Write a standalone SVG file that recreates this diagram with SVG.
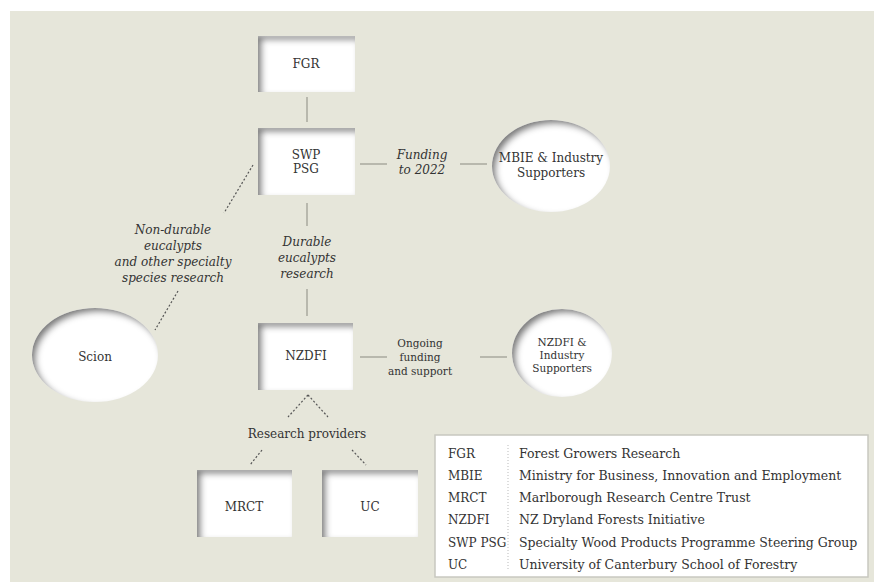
<svg xmlns="http://www.w3.org/2000/svg" width="874" height="582" viewBox="0 0 874 582">
<defs>
<filter id="inset" x="-10%" y="-10%" width="120%" height="120%">
<feComponentTransfer in="SourceAlpha" result="inv"><feFuncA type="table" tableValues="1 0"/></feComponentTransfer>
<feGaussianBlur in="inv" stdDeviation="3" result="blur"/>
<feOffset in="blur" dx="4" dy="4" result="off"/>
<feFlood flood-color="#7a7a7a" result="col"/>
<feComposite in="col" in2="off" operator="in" result="sh"/>
<feComposite in="sh" in2="SourceAlpha" operator="in" result="shin"/>
<feMerge><feMergeNode in="SourceGraphic"/><feMergeNode in="shin"/></feMerge>
</filter>
<style>
.bg{fill:#e6e6da}
.box{fill:#ffffff;filter:url(#inset)}
.lbl{font-family:"DejaVu Serif","Liberation Serif",serif;font-size:12px;fill:#333;text-anchor:middle}
.sm{font-size:10.5px}
.ital{font-family:"DejaVu Serif","Liberation Serif",serif;font-style:italic;font-size:12px;fill:#333;text-anchor:middle}
.line{stroke:#8a8a80;stroke-width:1;fill:none}
.dot{stroke:#555;stroke-width:1.2;fill:none;stroke-dasharray:2 2}
.leg{font-family:"DejaVu Serif","Liberation Serif",serif;font-size:12.5px;fill:#333}
.abbr{font-size:12px}
</style>
</defs>
<rect class="bg" x="10" y="11" width="864" height="571"/>

<g id="connectors">
<line class="line" x1="307" y1="97" x2="307" y2="122"/>
<line class="line" x1="307" y1="203" x2="307" y2="226"/>
<line class="line" x1="307" y1="289" x2="307" y2="316"/>
<line class="line" x1="360" y1="164" x2="387" y2="164"/>
<line class="line" x1="460" y1="164" x2="487" y2="164"/>
<line class="line" x1="360" y1="357" x2="387" y2="357"/>
<line class="line" x1="480" y1="357" x2="507" y2="357"/>
<line class="dot" x1="253" y1="165" x2="224" y2="213"/>
<line class="dot" x1="178" y1="291" x2="155" y2="330"/>
<line class="dot" x1="308" y1="395" x2="288" y2="417"/>
<line class="dot" x1="308" y1="395" x2="328" y2="417"/>
<line class="dot" x1="262" y1="450" x2="250" y2="465"/>
<line class="dot" x1="352" y1="450" x2="366" y2="465"/>
<text class="ital" x="422" y="159">Funding</text>
<text class="ital" x="422" y="174">to 2022</text>
<text class="ital" x="307" y="246">Durable</text>
<text class="ital" x="307" y="262">eucalypts</text>
<text class="ital" x="307" y="278">research</text>
<text class="ital" x="173" y="234">Non-durable</text>
<text class="ital" x="173" y="250">eucalypts</text>
<text class="ital" x="173" y="266">and other specialty</text>
<text class="ital" x="173" y="282">species research</text>
<text class="lbl sm" x="420" y="347">Ongoing</text>
<text class="lbl sm" x="420" y="361">funding</text>
<text class="lbl sm" x="420" y="375">and support</text>
<text class="lbl" x="307" y="438">Research providers</text>
</g>

<g id="FGR"><rect class="box" x="258" y="36" width="97" height="56"/><text class="lbl" x="306" y="68">FGR</text></g>
<g id="SWPPSG"><rect class="box" x="258" y="128" width="97" height="67"/><text class="lbl" x="306" y="159">SWP</text><text class="lbl" x="306" y="173">PSG</text></g>
<g id="NZDFI"><rect class="box" x="258" y="323" width="95" height="67"/><text class="lbl" x="306" y="360">NZDFI</text></g>
<g id="MRCT"><rect class="box" x="197" y="470" width="95" height="67"/><text class="lbl" x="244" y="511">MRCT</text></g>
<g id="UC"><rect class="box" x="322" y="470" width="96" height="67"/><text class="lbl" x="370" y="511">UC</text></g>
<g id="MBIE"><ellipse class="box" cx="551" cy="166" rx="59" ry="46"/><text class="lbl" x="551" y="162">MBIE &amp; Industry</text><text class="lbl" x="551" y="177">Supporters</text></g>
<g id="NZDFIsup"><ellipse class="box" cx="562" cy="353" rx="50" ry="44"/><text class="lbl sm" x="562" y="346">NZDFI &amp;</text><text class="lbl sm" x="562" y="359">Industry</text><text class="lbl sm" x="562" y="372">Supporters</text></g>
<g id="Scion"><ellipse class="box" cx="95" cy="355" rx="63" ry="47"/><text class="lbl" x="95" y="361">Scion</text></g>

<g id="legend">
<rect x="435" y="435" width="433" height="142" fill="#fff" stroke="#c8c8c0" stroke-width="1.5"/>
<line x1="508" y1="445" x2="508" y2="570" stroke="#bbb" stroke-dasharray="1 2"/>
<text class="leg abbr" x="448" y="458">FGR</text><text class="leg" x="519" y="458">Forest Growers Research</text>
<text class="leg abbr" x="448" y="480">MBIE</text><text class="leg" x="519" y="480">Ministry for Business, Innovation and Employment</text>
<text class="leg abbr" x="448" y="502">MRCT</text><text class="leg" x="519" y="502">Marlborough Research Centre Trust</text>
<text class="leg abbr" x="448" y="524">NZDFI</text><text class="leg" x="519" y="524">NZ Dryland Forests Initiative</text>
<text class="leg abbr" x="448" y="547">SWP PSG</text><text class="leg" x="519" y="547">Specialty Wood Products Programme Steering Group</text>
<text class="leg abbr" x="448" y="569">UC</text><text class="leg" x="519" y="569">University of Canterbury School of Forestry</text>
</g>
</svg>
